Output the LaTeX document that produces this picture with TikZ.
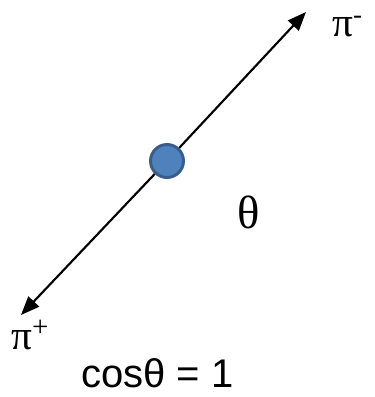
\documentclass[tikz,border=0pt]{standalone}
\usepackage{fontspec}
\setmainfont{Liberation Serif}
\newfontfamily\grkfont{Liberation Serif}
\newfontfamily\labelfont{Liberation Sans}
\usetikzlibrary{arrows.meta}
\definecolor{dotfill}{RGB}{79,129,189}
\definecolor{dotedge}{RGB}{56,93,138}
\begin{document}
\begin{tikzpicture}[x=0.75pt,y=-0.75pt,
    track/.style={line width=1.6pt, -{Triangle[length=14pt,width=11pt]}},
    pion/.style={inner sep=0pt, font=\grkfont\fontsize{31}{31}\selectfont},
    vertex/.style={circle, fill=dotfill, draw=dotedge, line width=2.2pt, minimum size=33*0.75pt, inner sep=0pt}]
        % --- Parameters ---
        \pgfmathsetmacro{\cx}{167}
        \pgfmathsetmacro{\cy}{161}
        \useasboundingbox (0,0) rectangle (375,397);
        % --- Track ends ---
        \coordinate (tipminus) at (306,12);
        \coordinate (tipplus) at (21,315);
        % --- Decay vertex ---
        \node[vertex] (dot) at (\cx,\cy) {};
        % --- Back-to-back pions ---
        \draw[track] (dot) -- (tipminus);
        \draw[track] (dot) -- (tipplus);
        \node[pion, anchor=base west] (piminus) at (332,36) {π\raisebox{0.3em}{\fontsize{20}{20}\selectfont -}};
        \node[pion, anchor=base west] (piplus) at (11,349) {π\textsuperscript{+}};
        % --- Angle and cosine ---
        \node[inner sep=0pt, anchor=base west, font=\grkfont\fontsize{35}{35}\selectfont] (theta) at (237,228) {θ};
        \node[inner sep=0pt, anchor=base west, font=\labelfont\fontsize{30}{30}\selectfont] (cosine) at (81,387) {cosθ = 1};
        \end{tikzpicture}
\end{document}
